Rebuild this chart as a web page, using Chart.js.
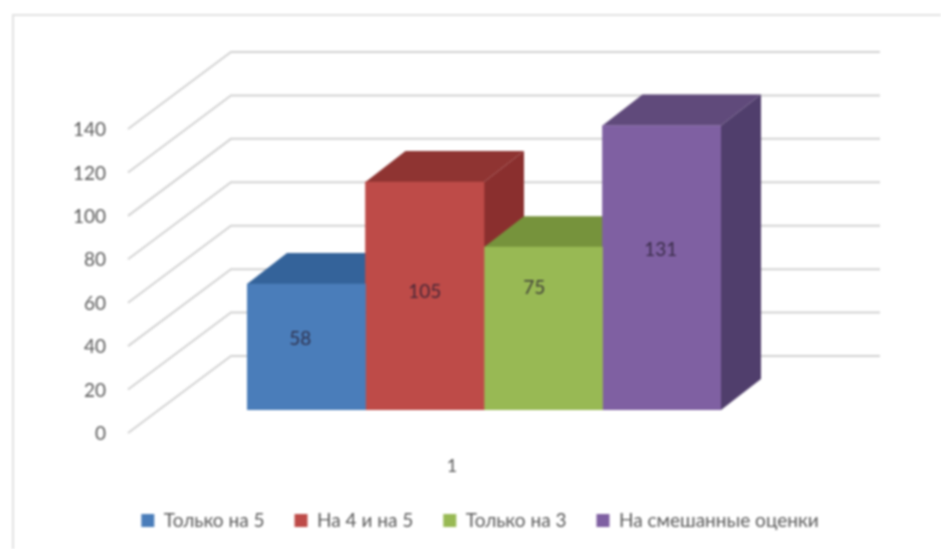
<!DOCTYPE html>
<html>
<head>
<meta charset="utf-8">
<style>
  html, body { margin: 0; padding: 0; background: #fff; overflow: hidden; }
  canvas { display: block; filter: blur(0.9px); }
</style>
<script src="https://cdn.jsdelivr.net/npm/chart.js@4"></script>
</head>
<body>
<canvas id="chart" width="941" height="549"></canvas>
<script>
// Data
const categories = ["1"];
const seriesNames = ["Только на 5", "На 4 и на 5", "Только на 3", "На смешанные оценки"];
const seriesValues = [58, 105, 75, 131];
const frontColors = ["#4a7dba", "#be4b48", "#98b954", "#7f60a2"];
const topColors = ["#34639a", "#8f3432", "#76933c", "#604a7b"];
const sideColors = ["#2c5484", "#8a2f2e", "#6a8636", "#503e6c"];

// 3D look, in pixels
const depthX = 40, depthY = -31;           // bar depth
const wallX = 231, wallY = -54;            // back wall start, relative to the bar plane
const gridFrontX = 128, gridFrontY = 23;   // front end of the floor/side lines
const gridEndX = 880;
const labelNudge = [[-6, -8], [0, -4], [-9, -41], [-1, -18]];

function poly(ctx, pts, color) {
    ctx.fillStyle = color;
    ctx.beginPath();
    pts.forEach((p, i) => (i ? ctx.lineTo(p[0], p[1]) : ctx.moveTo(p[0], p[1])));
    ctx.closePath();
    ctx.fill();
}

const frame3d = {
    id: "frame3d",
    beforeDraw(chart) {
        // Thin frame round the chart, only top and left are in the picture
        const ctx = chart.ctx;
        ctx.save();
        ctx.strokeStyle = "#e2e2e2";
        ctx.lineWidth = 2;
        ctx.beginPath();
        ctx.moveTo(13, 549);
        ctx.lineTo(13, 15);
        ctx.lineTo(941, 15);
        ctx.stroke();
        ctx.restore();
    },
    beforeDatasetsDraw(chart) {
        const ctx = chart.ctx, y = chart.scales.y;
        ctx.save();
        // Back wall and side lines
        ctx.strokeStyle = "#d2d2d2";
        ctx.lineWidth = 2;
        y.ticks.forEach((t) => {
            const py = y.getPixelForValue(t.value);
            ctx.beginPath();
            ctx.moveTo(gridFrontX, py + gridFrontY);
            ctx.lineTo(wallX, py + wallY);
            ctx.lineTo(gridEndX, py + wallY);
            ctx.stroke();
        });
        // Side and top faces left to right, the library paints the fronts over them
        seriesNames.forEach((_, i) => {
            const bar = chart.getDatasetMeta(i).data[0];
            const x1 = bar.x - bar.width / 2, x2 = bar.x + bar.width / 2;
            poly(ctx, [[x2, bar.y], [x2 + depthX, bar.y + depthY], [x2 + depthX, bar.base + depthY], [x2, bar.base]], sideColors[i]);
            poly(ctx, [[x1, bar.y], [x1 + depthX, bar.y + depthY], [x2 + depthX, bar.y + depthY], [x2, bar.y]], topColors[i]);
        });
        ctx.restore();
    },
    afterDatasetsDraw(chart) {
        const ctx = chart.ctx;
        ctx.save();
        ctx.font = "19px Lato";
        ctx.fillStyle = "rgba(40,30,50,0.8)";
        ctx.textAlign = "center";
        ctx.textBaseline = "middle";
        seriesValues.forEach((v, i) => {
            const bar = chart.getDatasetMeta(i).data[0];
            ctx.fillText(String(v), bar.x + labelNudge[i][0], (bar.y + bar.base) / 2 + labelNudge[i][1]);
        });
        ctx.restore();
    },
};

new Chart(document.getElementById("chart"), {
    type: "bar",
    data: {
        labels: categories,
        datasets: seriesNames.map((name, i) => ({
            label: name,
            data: [seriesValues[i]],
            backgroundColor: frontColors[i],
            borderWidth: 0,
        })),
    },
    options: {
        responsive: false,
        animation: false,
        layout: { padding: { left: 19, right: 0, top: 106, bottom: 9 } },
        datasets: { bar: { barPercentage: 1, categoryPercentage: 1 } },
        scales: {
            x: {
                grid: { display: false },
                border: { display: false },
                ticks: { color: "#595959", font: { family: "Lato", size: 18 }, padding: 37, labelOffset: -32 },
                afterFit: (s) => { s.height = 71; s.paddingLeft = 0; s.paddingRight = 0; },
            },
            y: {
                min: 0,
                max: 140,
                grid: { display: false },
                border: { display: false },
                ticks: { stepSize: 20, color: "#595959", font: { family: "Lato", size: 19 }, padding: 133, labelOffset: 24 },
                afterFit: (s) => { s.width = 228; s.paddingTop = 0; s.paddingBottom = 0; },
            },
            // empty, only keeps the plot clear of the right side
            spacer: {
                position: "right",
                grid: { display: false },
                border: { display: false },
                ticks: { display: false },
                afterFit: (s) => { s.width = 220; },
            },
        },
        plugins: {
            tooltip: { enabled: false },
            legend: {
                position: "bottom",
                labels: {
                    boxWidth: 13,
                    boxHeight: 13,
                    padding: 30,
                    color: "#595959",
                    font: { family: "Lato", size: 19 },
                },
            },
        },
    },
    plugins: [frame3d],
});
</script>
</body>
</html>
